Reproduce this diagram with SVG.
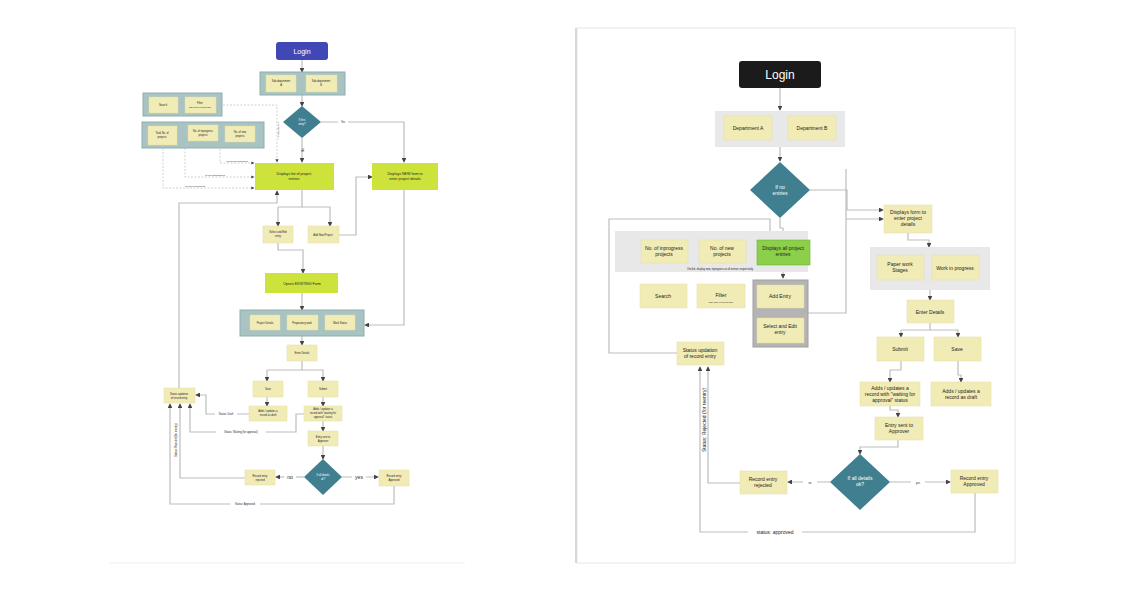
<svg xmlns="http://www.w3.org/2000/svg" width="1140" height="592" viewBox="0 0 1140 592">
<defs>
<marker id="a" viewBox="0 0 6 6" refX="5" refY="3" markerWidth="4" markerHeight="4" orient="auto"><path d="M0,0L6,3L0,6z" fill="#444"/></marker>
<style>
.s{fill:#f1ecb6;stroke:#e4dea0;stroke-width:.5}
.tc{fill:#a9c2c2;stroke:#8fb0b0;stroke-width:1}
.gc{fill:#e8e8e8}
.dm{fill:#3f7f8f}
.lime{fill:#cde33c}
.l{fill:none;stroke:#bdbdbd;stroke-width:1.2;marker-end:url(#a)}
.n{fill:none;stroke:#bdbdbd;stroke-width:1.2}
.d{fill:none;stroke:#c4c4c4;stroke-width:.8;stroke-dasharray:2 1.5;marker-end:url(#a)}
text{font-family:"Liberation Sans",Arial,sans-serif;text-anchor:middle;fill:#222}
.t4{font-size:3.6px}.t3{font-size:2.6px}.t5{font-size:5px}.t7{font-size:6.6px}.t2{font-size:2px}
.w{fill:#fff}
</style>
</defs>
<rect width="1140" height="592" fill="#fff"/>
<line x1="110" y1="563" x2="465" y2="563" stroke="#eee"/>
<rect x="577" y="28" width="438" height="535" fill="#fff" stroke="#e6e6e6"/>
<line x1="576" y1="28" x2="576" y2="563" stroke="#d8d8d8" stroke-width="2"/>

<g id="connectors">
<!-- left -->
<path class="l" d="M302,60V72"/>
<path class="l" d="M302,95V106"/>
<path class="l" d="M302,138V162"/>
<path class="l" d="M321,122H404V162"/>
<path class="d" d="M223,105H277V162"/>
<path class="d" d="M220,142V163H254"/>
<path class="d" d="M185,141V177H254"/>
<path class="d" d="M163,145V188H254"/>
<path class="n" d="M302,190V207H278"/><path class="l" d="M278,207V226"/>
<path class="l" d="M302,207H330V226"/>
<path class="l" d="M339,235H356V177H372"/>
<path class="l" d="M179,388V203H277V191"/>
<path class="l" d="M278,243V250H303V273"/>
<path class="l" d="M302,293V310"/>
<path class="l" d="M404,190V325H365"/>
<path class="l" d="M302,336V345"/>
<path class="n" d="M302,361V370H267"/><path class="l" d="M267,370V381"/>
<path class="l" d="M302,370H323V381"/>
<path class="l" d="M267,397V406"/>
<path class="l" d="M323,397V406"/>
<path class="l" d="M249,414H206V395H196"/>
<path class="l" d="M304,414H296V432H190V404"/>
<path class="l" d="M323,421V431"/>
<path class="l" d="M323,446V459"/>
<path class="l" d="M304,477H276"/>
<path class="l" d="M342,477H378"/>
<path class="l" d="M245,478H180V404"/>
<path class="l" d="M394,486V504H170V404"/>
<!-- right -->
<path class="l" d="M780,88V110"/>
<path class="l" d="M780,147V161"/>
<path class="l" d="M810,190H847V210H883"/>
<path class="l" d="M780,218V228H783V240"/>
<path class="l" d="M783,265V278"/>
<path class="l" d="M808,313H846V169H846V219H883"/>
<path class="l" d="M677,353H609V219H770V240"/>
<path class="l" d="M908,233V240H929V247"/>
<path class="l" d="M930,290V300"/>
<path class="n" d="M930,323V330H901"/><path class="l" d="M901,330V337"/>
<path class="l" d="M930,330H958V337"/>
<path class="l" d="M901,361V370H890V382"/>
<path class="l" d="M958,361V375H961V382"/>
<path class="l" d="M890,406V410H898V417"/>
<path class="l" d="M898,440V447H860V454"/>
<path class="l" d="M830,482H788"/>
<path class="l" d="M890,482H950"/>
<path class="l" d="M740,483H708V367"/>
<path class="l" d="M975,493V532H700V367"/>
</g>
<g id="labels">
<text class="t2" x="279" y="130" transform="rotate(-90 279 130)">list based on entry</text>
<text class="t2" x="237" y="162">on click new projects list</text>
<text class="t2" x="215" y="176">on click inprogress list</text>
<text class="t2" x="195" y="187">on click all projects list</text>
<rect x="338" y="120" width="10" height="4" fill="#fff"/><text class="t3" x="343" y="123">Yes</text>
<text class="t3" x="304" y="150" transform="rotate(-90 304 150)">No</text>
<text class="t3" x="182" y="106">or</text>
<rect x="215" y="412" width="22" height="4" fill="#fff"/><text class="t3" x="226" y="415">Status: Draft</text>
<rect x="216" y="430" width="50" height="4" fill="#fff"/><text class="t3" x="241" y="433">Status: Waiting (for approval)</text>
<rect x="284" y="474" width="12" height="6" fill="#fff"/><text class="t5" x="290" y="479">no</text>
<rect x="352" y="474" width="14" height="6" fill="#fff"/><text class="t5" x="359" y="479">yes</text>
<text class="t3" x="177" y="440" transform="rotate(-90 177 440)">Status: Rejected (for reentry)</text>
<rect x="230" y="502" width="30" height="4" fill="#fff"/><text class="t3" x="245" y="505">Status: Approved</text>
<rect x="803" y="479" width="14" height="6" fill="#fff"/><text class="t3" x="810" y="484">no</text>
<rect x="911" y="479" width="14" height="6" fill="#fff"/><text class="t3" x="918" y="484">yes</text>
<text class="t5" x="706" y="420" transform="rotate(-90 706 420)">Status: Rejected (for reentry)</text>
<rect x="748" y="529" width="54" height="7" fill="#fff"/><text class="t5" x="775" y="534">status: approved</text>
</g>

<!-- LEFT DIAGRAM -->
<g id="l-login"><rect x="276" y="42" width="52" height="18" rx="3" fill="#3f48b5"/><text class="w" x="302" y="54" font-size="7" fill="#fff" style="fill:#fff">Login</text></g>
<g id="l-subdept"><rect class="tc" x="260" y="72" width="85" height="23"/>
<rect class="s" x="266" y="75" width="30" height="17"/><text class="t3" x="281" y="82">Sub-department</text><text class="t3" x="281" y="86">A</text>
<rect class="s" x="306" y="75" width="31" height="17"/><text class="t3" x="321" y="82">Sub-department</text><text class="t3" x="321" y="86">B</text></g>
<g id="l-firstentry"><path class="dm" d="M302,106L321,122L302,138L283,122z"/><text class="t3 w" x="302" y="121" style="fill:#fff">If first</text><text class="t3" x="302" y="125" style="fill:#fff">entry?</text></g>
<g id="l-search"><rect class="tc" x="143" y="93" width="79" height="23"/>
<rect class="s" x="149" y="97" width="29" height="16"/><text class="t3" x="163" y="106">Search</text>
<rect class="s" x="185" y="97" width="31" height="16"/><text class="t3" x="200" y="104">Filter</text><text class="t2" x="200" y="108" font-size="1.4">date wise or project wise</text></g>
<g id="l-stats"><rect class="tc" x="142" y="122" width="122" height="26"/>
<rect class="s" x="148" y="126" width="29" height="19"/><text class="t3" x="162" y="134">Total No. of</text><text class="t3" x="162" y="138">projects</text>
<rect class="s" x="188" y="125" width="30" height="16"/><text class="t3" x="203" y="132">No. of inprogress</text><text class="t3" x="203" y="136">projects</text>
<rect class="s" x="225" y="126" width="30" height="16"/><text class="t3" x="240" y="133">No. of new</text><text class="t3" x="240" y="137">projects</text></g>
<g id="l-displaylist"><rect class="lime" x="255" y="163" width="79" height="27"/><text class="t4" x="294" y="175">Displays list of project</text><text class="t4" x="294" y="180">entries</text></g>
<g id="l-newform"><rect class="lime" x="372" y="163" width="66" height="27"/><text class="t4" x="405" y="175">Displays NEW form to</text><text class="t4" x="405" y="180">enter project details</text></g>
<g id="l-selectedit"><rect class="s" x="263" y="226" width="30" height="17"/><text class="t3" x="278" y="233">Select and Edit</text><text class="t3" x="278" y="237">entry</text></g>
<g id="l-addnew"><rect class="s" x="308" y="226" width="31" height="17"/><text class="t3" x="323" y="236">Add New Project</text></g>
<g id="l-opens"><rect class="lime" x="265" y="273" width="73" height="20"/><text class="t4" x="302" y="285">Opens EXISTING Form</text></g>
<g id="l-form"><rect class="tc" x="240" y="310" width="124" height="26"/>
<rect class="s" x="250" y="315" width="30" height="15"/><text class="t3" x="265" y="324">Project Details</text>
<rect class="s" x="287" y="315" width="31" height="15"/><text class="t3" x="302" y="324">Preparatory work</text>
<rect class="s" x="325" y="315" width="30" height="15"/><text class="t3" x="340" y="324">Work Status</text></g>
<g id="l-enter"><rect class="s" x="287" y="345" width="30" height="16"/><text class="t3" x="302" y="354">Enter Details</text></g>
<g id="l-save"><rect class="s" x="253" y="381" width="30" height="16"/><text class="t3" x="268" y="390">Save</text></g>
<g id="l-submit"><rect class="s" x="308" y="381" width="30" height="16"/><text class="t3" x="323" y="390">Submit</text></g>
<g id="l-draft"><rect class="s" x="249" y="406" width="38" height="15"/><text class="t3" x="268" y="412">Adds / updates a</text><text class="t3" x="268" y="416">record as draft</text></g>
<g id="l-waiting"><rect class="s" x="304" y="406" width="38" height="15"/><text class="t3" x="323" y="410">Adds / updates a</text><text class="t3" x="323" y="414">record with "waiting for</text><text class="t3" x="323" y="418">approval" status</text></g>
<g id="l-status"><rect class="s" x="164" y="388" width="31" height="15"/><text class="t3" x="179" y="395">Status updation</text><text class="t3" x="179" y="399">of record entry</text></g>
<g id="l-sent"><rect class="s" x="308" y="431" width="30" height="15"/><text class="t3" x="323" y="438">Entry sent to</text><text class="t3" x="323" y="442">Approver</text></g>
<g id="l-ok"><path class="dm" d="M323,459L342,477L323,495L304,477z"/><text class="t3" x="323" y="476" style="fill:#fff">If all details</text><text class="t3" x="323" y="480" style="fill:#fff">ok?</text></g>
<g id="l-rejected"><rect class="s" x="245" y="470" width="30" height="15"/><text class="t3" x="260" y="477">Record entry</text><text class="t3" x="260" y="481">rejected</text></g>
<g id="l-approved"><rect class="s" x="379" y="470" width="30" height="16"/><text class="t3" x="394" y="477">Record entry</text><text class="t3" x="394" y="481">Approved</text></g>

<!-- RIGHT DIAGRAM -->
<g id="r-login"><rect x="739" y="61" width="82" height="27" rx="3" fill="#1b1b1b"/><text x="780" y="79" font-size="12" style="fill:#fff">Login</text></g>
<g id="r-dept"><rect class="gc" x="715" y="111" width="130" height="36"/>
<rect class="s" x="724" y="116" width="48" height="24"/><text class="t5" x="748" y="130">Department A</text>
<rect class="s" x="788" y="116" width="48" height="24"/><text class="t5" x="812" y="130">Department B</text></g>
<g id="r-noentries"><path class="dm" d="M780,162L810,190L780,218L750,190z"/><text class="t5" x="780" y="189" style="fill:#fff">If no</text><text class="t5" x="780" y="195" style="fill:#fff">entries</text></g>
<g id="r-displayform"><rect class="s" x="884" y="205" width="48" height="28"/><text class="t5" x="908" y="214">Displays form to</text><text class="t5" x="908" y="220">enter project</text><text class="t5" x="908" y="226">details</text></g>
<g id="r-list"><rect class="gc" x="615" y="231" width="193" height="41"/>
<rect class="s" x="641" y="240" width="47" height="23"/><text class="t5" x="664" y="250">No. of inprogress</text><text class="t5" x="664" y="256">projects</text>
<rect class="s" x="699" y="240" width="47" height="23"/><text class="t5" x="722" y="250">No. of new</text><text class="t5" x="722" y="256">projects</text>
<rect x="757" y="240" width="53" height="25" fill="#8ccf4b" stroke="#6eb238" stroke-width=".6"/><text class="t5" x="783" y="250">Displays all project</text><text class="t5" x="783" y="256">entries</text>
<text x="720" y="270" font-size="2.6">Onclick, display new, inprogress or all entries respectively</text></g>
<g id="r-search"><rect class="s" x="640" y="284" width="47" height="24"/><text class="t5" x="663" y="298">Search</text></g>
<g id="r-filter"><rect class="s" x="697" y="284" width="48" height="24"/><text class="t5" x="721" y="297">Filter</text><text x="721" y="303" font-size="2.2">Date wise or project wise</text></g>
<g id="r-actions"><rect x="753" y="280" width="55" height="67" fill="#b4b4b4" stroke="#a0a0a0"/>
<rect class="s" x="757" y="285" width="47" height="23"/><text class="t5" x="780" y="298">Add Entry</text>
<rect class="s" x="757" y="318" width="47" height="25"/><text class="t5" x="780" y="328">Select and Edit</text><text class="t5" x="780" y="334">entry</text></g>
<g id="r-status"><rect class="s" x="677" y="342" width="47" height="23"/><text class="t5" x="700" y="352">Status updation</text><text class="t5" x="700" y="358">of record entry</text></g>
<g id="r-stages"><rect class="gc" x="870" y="247" width="120" height="43"/>
<rect class="s" x="877" y="255" width="47" height="25"/><text class="t5" x="900" y="266">Paper work</text><text class="t5" x="900" y="272">Stages</text>
<rect class="s" x="932" y="255" width="47" height="25"/><text class="t5" x="955" y="270">Work in progress</text></g>
<g id="r-enter"><rect class="s" x="907" y="300" width="47" height="23"/><text class="t5" x="930" y="314">Enter Details</text></g>
<g id="r-submit"><rect class="s" x="877" y="337" width="47" height="24"/><text class="t5" x="900" y="351">Submit</text></g>
<g id="r-save"><rect class="s" x="934" y="337" width="47" height="24"/><text class="t5" x="957" y="351">Save</text></g>
<g id="r-waiting"><rect class="s" x="860" y="382" width="60" height="24"/><text class="t5" x="890" y="390">Adds / updates a</text><text class="t5" x="890" y="396">record with "waiting for</text><text class="t5" x="890" y="402">approval" status</text></g>
<g id="r-draft"><rect class="s" x="931" y="382" width="60" height="24"/><text class="t5" x="961" y="393">Adds / updates a</text><text class="t5" x="961" y="399">record as draft</text></g>
<g id="r-sent"><rect class="s" x="875" y="417" width="48" height="23"/><text class="t5" x="899" y="427">Entry sent to</text><text class="t5" x="899" y="433">Approver</text></g>
<g id="r-ok"><path class="dm" d="M860,454L890,482L860,510L830,482z"/><text class="t5" x="860" y="480" style="fill:#fff">If all details</text><text class="t5" x="860" y="486" style="fill:#fff">ok?</text></g>
<g id="r-rejected"><rect class="s" x="740" y="471" width="47" height="23"/><text class="t5" x="763" y="481">Record entry</text><text class="t5" x="763" y="487">rejected</text></g>
<g id="r-approved"><rect class="s" x="951" y="470" width="47" height="23"/><text class="t5" x="974" y="480">Record entry</text><text class="t5" x="974" y="486">Approved</text></g>
</svg>
